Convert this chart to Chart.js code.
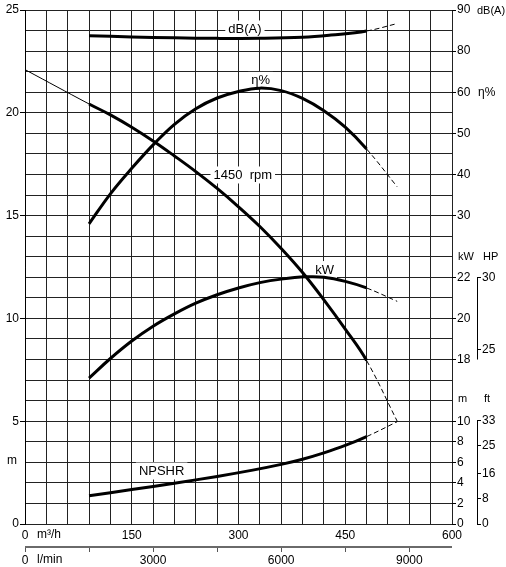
<!DOCTYPE html>
<html>
<head>
<meta charset="utf-8">
<script src="https://cdn.jsdelivr.net/npm/chart.js@4.4.0/dist/chart.umd.min.js"></script>
<style>
  html, body { margin: 0; padding: 0; background: #fff; }
  #wrap { width: 506px; height: 567px; }
</style>
</head>
<body>
<div id="wrap"><canvas id="curva"></canvas></div>
<script>
var caudalAltura = [0, 90, 120, 150, 180, 210, 240, 270, 300, 330, 360, 390, 420, 450, 480, 523];
var altura = [22.1, 20.43, 19.9, 19.3, 18.63, 17.9, 17.14, 16.32, 15.43, 14.47, 13.4, 12.23, 10.9, 9.48, 7.95, 5.0];

var caudalRend = [90, 120, 150, 180, 210, 240, 270, 300, 330, 360, 390, 420, 450, 480, 523];
var rendimiento = [28.0, 35.3, 41.5, 47.2, 52.2, 56.0, 58.6, 60.2, 61.0, 60.4, 58.5, 55.5, 51.5, 46.2, 37.0];

var caudalRuido = [90, 150, 210, 270, 330, 390, 430, 480, 523];
var ruido = [83.75, 83.45, 83.25, 83.1, 83.1, 83.35, 83.9, 84.9, 86.7];

var caudalPotencia = [90, 120, 150, 180, 210, 240, 270, 300, 330, 360, 395, 420, 450, 480, 523];
var potencia = [17.1, 18.05, 18.9, 19.62, 20.22, 20.74, 21.15, 21.48, 21.74, 21.91, 22.02, 22.0, 21.8, 21.48, 20.83];

var caudalNpsh = [90, 150, 210, 270, 320, 360, 390, 420, 450, 480, 523];
var npsh = [2.75, 3.35, 3.97, 4.63, 5.24, 5.8, 6.3, 6.92, 7.64, 8.5, 9.95];

// zona de trabajo (trazo grueso)
var zonaDesde = 90, zonaHasta = 480;

// etiquetas de los ejes
var ticksCaudal = [0, 150, 300, 450, 600];
var ticksLitros = [0, 3000, 6000, 9000];
var pasoLitros = 1500;
var ticksAltura = [0, 5, 10, 15, 20, 25];
var ticksRuido = [80, 90];
var ticksRend = [30, 40, 50, 60];
var ticksPotencia = [18, 20, 22];
var ticksNpsh = [0, 2, 4, 6, 8, 10];
var ticksHp = [25, 30];
var ticksPies = [0, 8, 16, 25, 33];

var fuente = "'Liberation Sans', Arial, sans-serif";
Chart.defaults.font.family = fuente;
Chart.defaults.font.size = 12;
Chart.defaults.color = '#000';

function grosor(ctx){
    if(ctx.p0.parsed.x >= zonaHasta) return 1;
    if(ctx.p1.parsed.x <= zonaDesde) return 1;
    return 3;
}
function trazo(ctx){
    return ctx.p0.parsed.x >= zonaHasta ? [5, 3] : [];
}

function serie(xs, ys, eje){
    return {
        data: xs.map((q, i) => ({x: q, y: ys[i]})),
        xAxisID: 'x',
        yAxisID: eje,
        borderColor: '#000',
        borderWidth: 3,
        pointRadius: 0,
        fill: false,
        tension: 0.4,
        segment: {borderWidth: grosor, borderDash: trazo}
    };
}

// ejes de la derecha: ancho 0 para que queden encimados sobre el borde
function ejeDerecho(min, max, valores, peso, ancho){
    return {
        type: 'linear', axis: 'y', position: 'right', min: min, max: max, weight: peso,
        afterBuildTicks: s => { s.ticks = valores.map(v => ({value: v})); },
        afterFit: s => { s.width = ancho; },
        ticks: {autoSkip: false, padding: 1},
        grid: {drawOnChartArea: false, tickLength: 4, color: '#000'},
        border: {display: false}
    };
}

var etiquetasCurva = [
    {texto: 'dB(A)', q: 309, h: 24.1},
    {texto: 'η%', q: 331, h: 21.6},
    {texto: '1450  rpm', q: 306, h: 17},
    {texto: 'kW', q: 421, h: 12.4},
    {texto: 'NPSHR', q: 192, h: 2.6}
];

var rotulos = {
    id: 'rotulos',
    afterLayout(chart){
        // devolver ancho a los ejes encimados para que no se recorten sus numeros
        ['db', 'eta', 'kw', 'hp'].forEach(id => {
            const s = chart.scales[id];
            s.right = s.left + 25;
            s.width = 25;
        });
    },
    beforeDatasetsDraw(chart){
        const ctx = chart.ctx, sx = chart.scales.x, sy = chart.scales.y;
        ctx.save();
        ctx.font = '13px ' + fuente;
        ctx.textAlign = 'center';
        ctx.textBaseline = 'middle';
        etiquetasCurva.forEach(e => {
            const px = sx.getPixelForValue(e.q), py = sy.getPixelForValue(e.h);
            const w = ctx.measureText(e.texto).width + 6;
            ctx.fillStyle = '#fff';
            ctx.fillRect(px - w / 2, py - 8, w, 17);
            ctx.fillStyle = '#000';
            ctx.fillText(e.texto, px, py + 1);
        });
        ctx.restore();
    },
    afterDraw(chart){
        const ctx = chart.ctx, s = chart.scales, area = chart.chartArea;
        const col1 = s.npsh.left, col2 = s.ft.left;
        ctx.save();
        ctx.setLineDash([]);
        // linea del eje l/min, justo debajo de las cifras de m3/h
        const ly = Math.round(area.bottom) + 22;
        ctx.fillStyle = '#6a6a6a';
        ctx.fillRect(Math.round(area.left), ly, Math.round(area.right - area.left), 2);
        ctx.fillStyle = '#000';
        ctx.font = '11px ' + fuente;
        ctx.textBaseline = 'middle';
        ctx.textAlign = 'left';
        ctx.fillText('dB(A)', col2, s.db.getPixelForValue(90) + 1);
        ctx.font = '12px ' + fuente;
        ctx.fillText('η%', col2 + 1, s.eta.getPixelForValue(60));
        ctx.font = '11px ' + fuente;
        ctx.fillText('kW', col1 + 6, s.kw.getPixelForValue(23));
        ctx.fillText('HP', col2 + 6, s.kw.getPixelForValue(23));
        ctx.fillText('m', col1 + 6, s.npsh.getPixelForValue(12.2));
        ctx.fillText('ft', col2 + 7, s.npsh.getPixelForValue(12.2));
        ctx.font = '12px ' + fuente;
        ctx.fillText('m³/h', s.x.left + 12, s.x.top + 11);
        ctx.fillText('l/min', s.lmin.left + 12, s.lmin.top + 12);
        ctx.textAlign = 'center';
        ctx.fillText('m', 12, s.y.getPixelForValue(3.1));
        // corchetes de HP y ft
        const bx = Math.round(col2) + 0.5;
        ctx.strokeStyle = '#000';
        ctx.lineWidth = 1;
        ctx.beginPath();
        ctx.moveTo(bx, s.hp.getPixelForValue(30));
        ctx.lineTo(bx, s.kw.getPixelForValue(18));
        ctx.moveTo(bx, s.ft.getPixelForValue(33));
        ctx.lineTo(bx, s.ft.getPixelForValue(0));
        ctx.stroke();
        ctx.restore();
    }
};

var chart = new Chart(document.getElementById('curva').getContext('2d'), {
    type: 'line',
    data: {
        datasets: [
            serie(caudalAltura, altura, 'y'),
            serie(caudalRend, rendimiento, 'eta'),
            serie(caudalRuido, ruido, 'db'),
            serie(caudalPotencia, potencia, 'kw'),
            serie(caudalNpsh, npsh, 'npsh')
        ]
    },
    options: {
        responsive: true,
        maintainAspectRatio: false,
        animation: false,
        layout: {padding: {top: 10, left: 0, right: 0, bottom: 0}},
        plugins: {legend: {display: false}, tooltip: {enabled: false}},
        scales: {
            x: {
                type: 'linear', axis: 'x', position: 'bottom', min: 0, max: 600, weight: 0,
                ticks: {stepSize: 30, autoSkip: false, maxRotation: 0, padding: 4,
                    callback: v => ticksCaudal.includes(v) ? v : ''},
                grid: {color: '#222', drawTicks: false},
                border: {display: false},
                afterFit: s => { s.height = 24; }
            },
            lmin: {
                type: 'linear', axis: 'x', position: 'bottom', min: 0, max: 10000, weight: 1,
                afterBuildTicks: s => {
                    const t = [];
                    for(let v = 0; v < s.max; v += pasoLitros) t.push({value: v});
                    s.ticks = t;
                },
                ticks: {autoSkip: false, maxRotation: 0, padding: 1,
                    callback: v => ticksLitros.includes(v) ? v : ''},
                grid: {drawOnChartArea: false, tickLength: 4, color: '#555'},
                border: {display: false},
                afterFit: s => { s.height = 19; }
            },
            y: {
                type: 'linear', axis: 'y', position: 'left', min: 0, max: 25,
                ticks: {stepSize: 1, autoSkip: false, padding: 1,
                    callback: v => ticksAltura.includes(v) ? v : ''},
                grid: {color: '#222', tickLength: 5,
                    tickColor: c => ticksAltura.includes(c.tick.value) ? '#000' : 'rgba(0,0,0,0)'},
                border: {color: '#000'},
                afterFit: s => { s.width = 25; }
            },
            db: ejeDerecho(-35, 90, ticksRuido, 0, 0),
            eta: ejeDerecho(-45, 80, ticksRend, 1, 0),
            kw: ejeDerecho(10, 35, ticksPotencia, 2, 0),
            npsh: ejeDerecho(0, 50, ticksNpsh, 3, 25),
            hp: ejeDerecho(12.8, 48.7, ticksHp, 4, 0),
            ft: ejeDerecho(0, 164, ticksPies, 5, 29)
        }
    },
    plugins: [rotulos]
});
</script>
</body>
</html>
